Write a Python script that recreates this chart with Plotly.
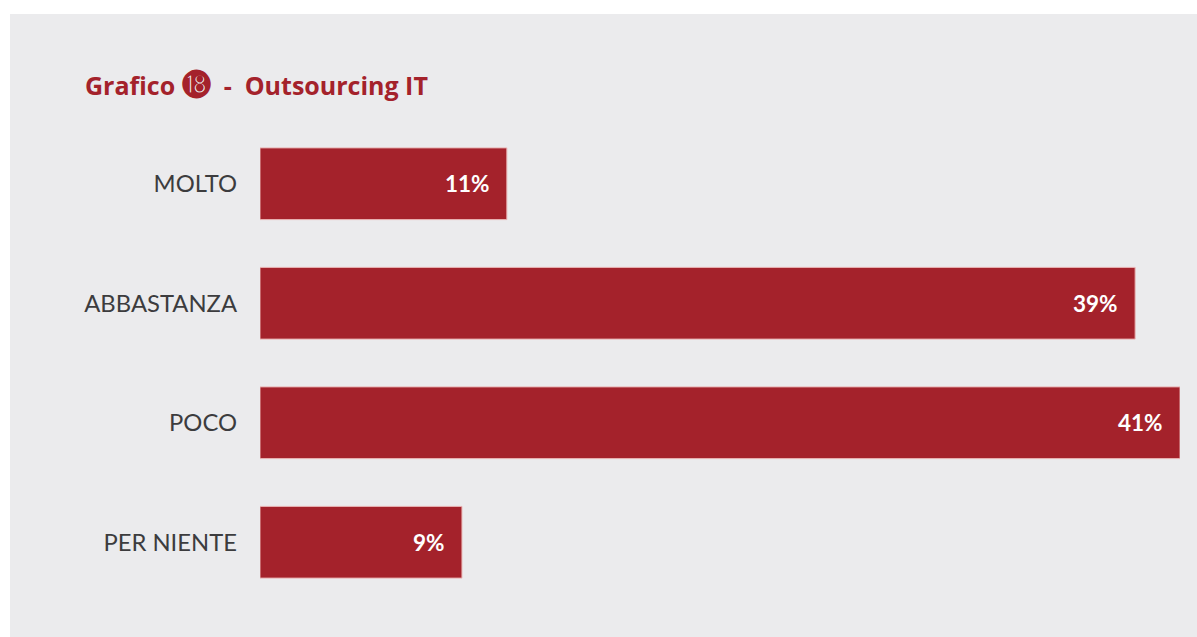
import plotly.graph_objects as go

# Survey answers and their shares (%)
categories = ["MOLTO", "ABBASTANZA", "POCO", "PER NIENTE"]
values = [11, 39, 41, 9]
value_labels = ["11%", "39%", "41%", "9%"]

BAR_RED = "#A4222B"
PANEL = "#EBEBED"
TEXT_DARK = "#3C3C3E"

W, H = 1197, 637
M_L, M_R, M_T, M_B = 260, 17, 124, 35
plot_w = W - M_L - M_R
plot_h = H - M_T - M_B


def px_x(px):
    return (px - M_L) / plot_w


def px_y(py):
    return (H - M_B - py) / plot_h


fig = go.Figure()
fig.add_trace(go.Bar(
    x=values,
    y=categories,
    orientation="h",
    marker=dict(color=BAR_RED, line=dict(color="#E9B3B3", width=1)),
    hoverinfo="skip",
))

# value labels inside the end of each bar
for cat, val, lab in zip(categories, values, value_labels):
    fig.add_annotation(
        x=val, y=cat, xref="x", yref="y", text=f"<b>{lab}</b>",
        showarrow=False, xanchor="right", yanchor="middle", xshift=-15,
        font=dict(family="Lato", size=22.5, color="white"),
    )

# grey panel behind the chart
fig.add_shape(
    type="rect", xref="paper", yref="paper", layer="below",
    x0=px_x(10), x1=px_x(1200), y0=px_y(640), y1=px_y(14),
    fillcolor=PANEL, line=dict(width=0),
)

# heading
fig.add_annotation(
    xref="paper", yref="paper", x=px_x(83), y=px_y(83),
    xanchor="left", yanchor="middle", showarrow=False,
    text=("<b>Grafico <span style='font-size:29px'>\u24f2</span>"
          "  -  Outsourcing IT</b>"),
    font=dict(family="Open Sans", size=25, color=BAR_RED),
)

fig.update_layout(
    width=W, height=H,
    margin=dict(l=M_L, r=M_R, t=M_T, b=M_B),
    paper_bgcolor="white",
    plot_bgcolor=PANEL,
    bargap=0.4,
    showlegend=False,
    xaxis=dict(range=[0, 41], visible=False, fixedrange=True),
    yaxis=dict(
        autorange="reversed", showgrid=False, zeroline=False, showline=False,
        ticks="", ticklabelstandoff=22,
        tickfont=dict(family="Lato", size=23.8, color=TEXT_DARK),
    ),
)

fig.write_html("out.html")
